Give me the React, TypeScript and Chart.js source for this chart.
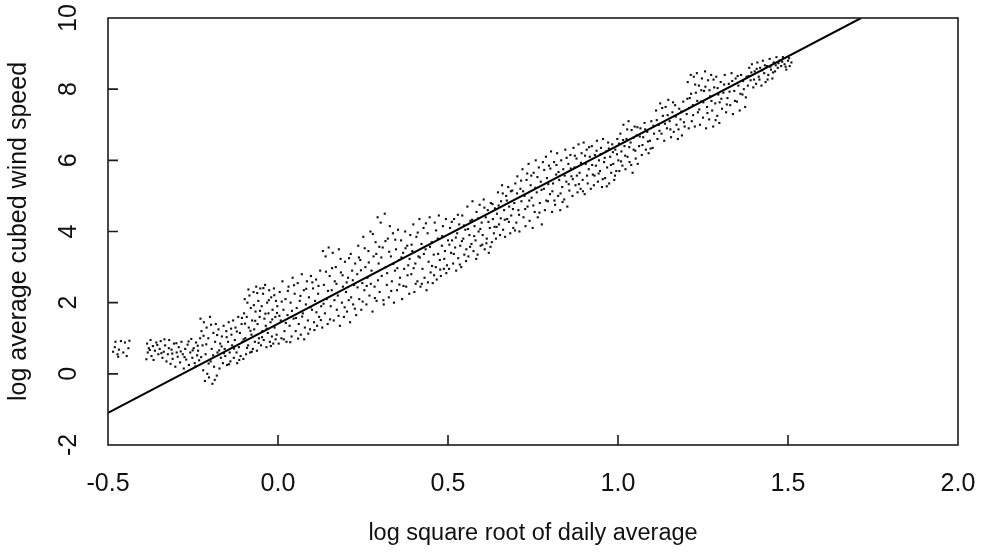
import { useEffect, useRef } from 'react';
import { Chart, registerables } from 'chart.js';

Chart.register(...registerables);

// x: log square root of daily average, y: log average cubed wind speed
const isolatedPoints: [number, number][] = [
  [-0.485, 0.62], [-0.48, 0.75], [-0.478, 0.9], [-0.472, 0.55], [-0.468, 0.68], [-0.462, 0.92],
  [-0.455, 0.6], [-0.45, 0.88], [-0.445, 0.5], [-0.44, 0.72], [-0.437, 0.93], [-0.47, 0.48],
];

const lowPoints: [number, number][] = [
  [-0.385, 0.85], [-0.383, 0.6], [-0.38, 0.72], [-0.375, 0.95], [-0.372, 0.5], [-0.368, 0.78], [-0.362, 0.65],
  [-0.358, 0.88], [-0.352, 0.55], [-0.348, 0.7], [-0.345, 0.92], [-0.34, 0.45], [-0.336, 0.62], [-0.332, 0.8],
  [-0.328, 0.35], [-0.324, 0.55], [-0.32, 0.95], [-0.316, 0.28], [-0.313, 0.68], [-0.31, 0.42], [-0.306, 0.85],
  [-0.302, 0.2], [-0.298, 0.6], [-0.295, 0.48], [-0.292, 0.75], [-0.288, 0.32], [-0.284, 0.9], [-0.28, 0.55],
  [-0.277, 0.15], [-0.273, 0.7], [-0.27, 0.4], [-0.266, 0.82], [-0.262, 0.25], [-0.258, 0.6], [-0.255, 0.98],
  [-0.252, 0.45], [-0.248, 0.72], [-0.245, 0.3], [-0.241, 0.88], [-0.238, 0.52], [-0.235, 0.65], [-0.232, 0.38],
  [-0.229, 1.0],
  [-0.228, 1.55], [-0.225, 1.2], [-0.222, 0.8], [-0.22, 0.1], [-0.218, 1.45], [-0.215, -0.2], [-0.213, 0.55],
  [-0.21, 1.3], [-0.208, 0.0], [-0.205, 1.0], [-0.203, -0.1], [-0.2, 1.6], [-0.198, 0.35], [-0.195, 0.7],
  [-0.193, -0.28], [-0.19, 1.15], [-0.188, 0.2], [-0.185, 0.9], [-0.183, 1.4], [-0.18, -0.05], [-0.178, 0.6],
  [-0.175, 1.25], [-0.172, 0.15], [-0.17, 0.85],
  [-0.168, 0.45], [-0.165, 1.05], [-0.162, 0.3], [-0.16, 1.35], [-0.157, 0.7], [-0.155, 0.5], [-0.152, 1.2],
  [-0.15, 0.25], [-0.147, 0.9], [-0.145, 1.45], [-0.142, 0.6], [-0.14, 0.35], [-0.137, 1.1], [-0.135, 0.8],
  [-0.132, 1.5], [-0.13, 0.45], [-0.127, 0.95], [-0.125, 1.3], [-0.122, 0.6], [-0.12, 0.3], [-0.117, 1.6],
  [-0.115, 0.75], [-0.112, 1.15], [-0.11, 0.5], [-0.107, 1.4], [-0.105, 0.9], [-0.102, 0.42], [-0.1, 1.7],
  [-0.387, 0.41], [-0.377, 0.67], [-0.366, 0.39], [-0.355, 0.81], [-0.343, 0.58], [-0.334, 0.97], [-0.321, 0.72],
  [-0.311, 0.57], [-0.299, 0.86], [-0.286, 0.63], [-0.275, 0.47], [-0.263, 0.91], [-0.251, 0.66], [-0.243, 0.21],
  [-0.236, 0.79], [-0.226, 0.47], [-0.219, 1.07], [-0.211, 0.83], [-0.204, 0.29], [-0.197, 1.38], [-0.191, 0.52],
  [-0.186, -0.17], [-0.179, 1.09], [-0.173, 0.66], [-0.166, 0.77], [-0.159, 0.58], [-0.151, 1.03], [-0.144, 0.27],
  [-0.138, 1.27], [-0.129, 0.71], [-0.121, 1.19], [-0.114, 0.39], [-0.106, 1.57], [-0.101, 0.97],
];

const rampPoints: [number, number][] = [
  [-0.098, 2.1], [-0.096, 1.0], [-0.094, 0.55], [-0.092, 1.6], [-0.09, 2.0], [-0.088, 0.8], [-0.086, 1.3],
  [-0.084, 2.2], [-0.082, 0.6], [-0.08, 1.85], [-0.078, 1.1], [-0.076, 1.5], [-0.074, 0.7], [-0.072, 2.3],
  [-0.07, 1.25], [-0.068, 0.9], [-0.066, 1.75], [-0.064, 2.45], [-0.062, 0.65], [-0.06, 1.4], [-0.058, 2.05],
  [-0.056, 1.0], [-0.054, 1.6], [-0.052, 2.4], [-0.05, 0.8], [-0.048, 1.9], [-0.046, 1.2], [-0.044, 2.25],
  [-0.042, 0.95], [-0.04, 1.55], [-0.038, 2.5], [-0.036, 1.35], [-0.034, 0.75], [-0.032, 2.0], [-0.03, 1.15],
  [-0.028, 1.7], [-0.026, 2.35], [-0.024, 0.9], [-0.022, 1.45], [-0.02, 2.15], [-0.018, 1.05], [-0.016, 1.8],
  [-0.014, 0.85], [-0.012, 2.4], [-0.01, 1.3], [-0.008, 1.6], [-0.006, 2.05], [-0.004, 1.1], [-0.002, 1.9],
  [0.002, 0.85], [0.005, 2.3], [0.008, 1.5], [0.01, 1.0], [0.013, 2.6], [0.016, 1.8], [0.019, 1.2],
  [0.022, 2.1], [0.025, 0.9], [0.028, 1.65], [0.031, 2.45], [0.034, 1.35], [0.037, 2.0], [0.04, 1.05],
  [0.043, 2.7], [0.046, 1.55], [0.049, 2.25], [0.052, 1.2], [0.055, 1.85], [0.058, 2.55], [0.061, 1.4],
  [0.064, 2.05], [0.067, 1.1], [0.07, 2.8], [0.073, 1.7], [0.076, 2.35], [0.079, 1.3], [0.082, 1.95],
  [0.085, 2.6], [0.088, 1.5], [0.091, 2.15], [0.094, 1.25], [0.097, 2.75], [0.1, 1.8], [0.103, 2.4],
  [0.106, 1.45], [0.109, 2.05], [0.112, 2.65], [0.115, 1.35], [0.118, 2.25], [0.121, 1.6], [0.124, 2.9],
  [0.127, 1.9], [0.13, 1.3],
  [0.132, 3.45], [0.135, 2.5], [0.138, 1.7], [0.14, 3.3], [0.143, 2.1], [0.146, 1.4], [0.149, 3.55],
  [0.152, 2.75], [0.155, 1.9], [0.158, 2.35], [0.161, 3.4], [0.164, 1.5], [0.167, 2.6], [0.17, 3.0],
  [0.173, 1.8], [0.176, 2.2], [0.179, 3.5], [0.182, 1.35], [0.185, 2.85], [0.188, 2.0], [0.191, 2.45],
  [0.194, 1.6], [0.197, 3.15], [0.2, 2.3], [0.203, 1.75], [0.206, 2.7], [0.209, 3.25], [0.212, 1.45],
  [0.215, 2.15], [0.218, 2.9], [0.221, 1.95], [0.224, 2.5], [0.227, 3.1], [0.23, 1.65],
  [-0.097, 1.41], [-0.091, 0.73], [-0.087, 2.37], [-0.081, 1.21], [-0.077, 0.62], [-0.071, 1.93], [-0.067, 1.49],
  [-0.061, 2.27], [-0.057, 0.87], [-0.053, 1.77], [-0.047, 1.03], [-0.043, 2.41], [-0.037, 1.69], [-0.033, 1.27],
  [-0.027, 2.07], [-0.021, 0.78], [-0.017, 1.53], [-0.011, 2.21], [-0.007, 0.97], [-0.003, 1.71],
  [0.004, 1.63], [0.011, 2.03], [0.017, 0.97], [0.023, 1.43], [0.029, 2.33], [0.036, 0.89], [0.041, 1.77],
  [0.047, 2.49], [0.053, 1.57], [0.059, 0.99], [0.066, 2.19], [0.071, 1.61], [0.077, 0.97], [0.083, 2.39],
  [0.089, 1.13], [0.096, 1.87], [0.101, 2.57], [0.107, 1.23], [0.113, 1.73], [0.119, 2.47], [0.126, 1.51],
  [0.134, 1.97], [0.141, 2.87], [0.147, 2.33], [0.153, 1.53], [0.159, 2.97], [0.166, 2.07], [0.172, 2.53],
  [0.178, 1.63], [0.184, 3.23], [0.19, 2.77], [0.196, 1.87], [0.202, 2.57], [0.208, 2.07], [0.214, 3.37],
  [0.22, 2.63], [0.226, 1.83],
];

const midPoints: [number, number][] = [
  [0.233, 2.8], [0.236, 3.6], [0.239, 2.1], [0.242, 3.2], [0.245, 1.8], [0.248, 2.55], [0.251, 3.85],
  [0.254, 2.35], [0.257, 3.0], [0.26, 1.95], [0.263, 2.7], [0.266, 3.45], [0.269, 2.2], [0.272, 4.0],
  [0.275, 2.9], [0.278, 1.75], [0.281, 3.3], [0.284, 2.45], [0.287, 3.7], [0.29, 2.05],
  [0.293, 4.4], [0.296, 3.1], [0.299, 2.3], [0.302, 4.25], [0.305, 2.75], [0.308, 3.55], [0.311, 1.95],
  [0.314, 4.5], [0.317, 3.0], [0.32, 2.5], [0.323, 3.8], [0.326, 2.15], [0.329, 4.15], [0.332, 3.3],
  [0.335, 2.6], [0.338, 3.95], [0.341, 2.0], [0.344, 2.9], [0.347, 3.5], [0.35, 2.35], [0.353, 4.05],
  [0.356, 3.2], [0.359, 2.7], [0.362, 3.75], [0.365, 2.1], [0.368, 3.4], [0.371, 2.95], [0.374, 4.0],
  [0.377, 2.45], [0.38, 3.6], [0.383, 3.05], [0.386, 2.25], [0.389, 3.9],
  [0.392, 2.8], [0.395, 3.45], [0.398, 4.2], [0.401, 2.3], [0.404, 3.1], [0.407, 3.85], [0.41, 2.6],
  [0.413, 3.3], [0.416, 4.35], [0.419, 2.45], [0.422, 3.65], [0.425, 2.95], [0.428, 4.1], [0.431, 2.7],
  [0.434, 3.5], [0.437, 2.35], [0.44, 3.95], [0.443, 3.15], [0.446, 4.4], [0.449, 2.85], [0.452, 3.7],
  [0.455, 2.55], [0.458, 3.35], [0.461, 4.25], [0.464, 3.0], [0.467, 2.65], [0.47, 3.8], [0.473, 4.45],
  [0.476, 3.2], [0.479, 2.75], [0.482, 3.6], [0.485, 4.15], [0.488, 2.95], [0.491, 3.45], [0.494, 4.35],
  [0.497, 3.05], [0.5, 3.75],
  [0.503, 2.95], [0.506, 4.1], [0.509, 3.4], [0.512, 3.75], [0.515, 3.1], [0.518, 4.35], [0.521, 3.55],
  [0.524, 2.9], [0.527, 3.95], [0.53, 3.25], [0.533, 4.2], [0.536, 3.6], [0.539, 3.0], [0.542, 4.45],
  [0.545, 3.8], [0.548, 3.35], [0.551, 4.05], [0.554, 3.5], [0.557, 4.7], [0.56, 3.3], [0.563, 3.9],
  [0.566, 4.3], [0.569, 3.65], [0.572, 4.85], [0.575, 3.45], [0.578, 4.15], [0.581, 3.75], [0.584, 4.55],
  [0.587, 3.35], [0.59, 4.0], [0.593, 4.75], [0.596, 3.6], [0.599, 4.25], [0.602, 3.9], [0.605, 4.9],
  [0.608, 3.5], [0.611, 4.4], [0.614, 3.8], [0.617, 4.6], [0.62, 3.4], [0.623, 4.1], [0.626, 4.8],
  [0.629, 3.7], [0.632, 4.35], [0.635, 3.95], [0.638, 4.65],
  [0.234, 2.43], [0.238, 3.27], [0.244, 2.91], [0.249, 2.03], [0.255, 3.53], [0.261, 2.47], [0.267, 3.13],
  [0.273, 2.53], [0.279, 3.93], [0.285, 2.13], [0.289, 3.37], [0.294, 2.63], [0.298, 3.57], [0.304, 3.27],
  [0.31, 2.07], [0.316, 3.73], [0.321, 2.83], [0.327, 3.43], [0.333, 2.33], [0.339, 3.09], [0.345, 3.77],
  [0.351, 2.97], [0.357, 2.51], [0.363, 3.27], [0.369, 2.47], [0.375, 3.53], [0.381, 2.77], [0.387, 3.23],
  [0.393, 3.63], [0.399, 2.97], [0.405, 2.53], [0.411, 3.97], [0.417, 3.27], [0.423, 2.53], [0.429, 3.37],
  [0.435, 4.23], [0.441, 2.57], [0.447, 3.57], [0.453, 3.03], [0.459, 2.77], [0.465, 4.03], [0.471, 3.37],
  [0.477, 2.93], [0.483, 3.87], [0.489, 3.23], [0.495, 2.83], [0.504, 3.63], [0.511, 4.27], [0.517, 3.37],
  [0.523, 3.83], [0.529, 4.47], [0.535, 3.07], [0.541, 3.73], [0.547, 4.17], [0.553, 3.17], [0.559, 4.07],
  [0.565, 3.57], [0.571, 4.33], [0.577, 3.87], [0.583, 3.23], [0.589, 4.37], [0.595, 4.07], [0.601, 3.63],
  [0.607, 4.67], [0.613, 3.67], [0.619, 4.27], [0.625, 3.57], [0.631, 4.77], [0.637, 4.13],
];

const upperPoints: [number, number][] = [
  [0.641, 3.8], [0.644, 4.5], [0.647, 5.1], [0.65, 4.2], [0.653, 3.9], [0.656, 4.85], [0.659, 5.3],
  [0.662, 4.05], [0.665, 4.6], [0.668, 3.85], [0.671, 5.0], [0.674, 4.35], [0.677, 5.25], [0.68, 4.7],
  [0.683, 3.95], [0.686, 4.45], [0.689, 5.15], [0.692, 4.1], [0.695, 4.8], [0.698, 5.35], [0.701, 4.25],
  [0.704, 5.55], [0.707, 4.6], [0.71, 4.0], [0.713, 5.2], [0.716, 4.85], [0.719, 5.75], [0.722, 4.4],
  [0.725, 5.0], [0.728, 4.15], [0.731, 5.45], [0.734, 4.7], [0.737, 5.9], [0.74, 4.3], [0.743, 5.3],
  [0.746, 4.95], [0.749, 4.1], [0.752, 5.65], [0.755, 4.55], [0.758, 6.0], [0.761, 5.1], [0.764, 4.4],
  [0.767, 5.8], [0.77, 4.8], [0.773, 5.4], [0.776, 4.2], [0.779, 5.95],
  [0.782, 5.2], [0.785, 4.6], [0.788, 6.1], [0.791, 5.5], [0.794, 4.85], [0.797, 5.85], [0.8, 5.05],
  [0.803, 6.25], [0.806, 4.55], [0.809, 5.35], [0.812, 5.95], [0.815, 4.75], [0.818, 5.6], [0.821, 6.2],
  [0.824, 5.0], [0.827, 5.45], [0.83, 4.6], [0.833, 6.0], [0.836, 5.25], [0.839, 5.75], [0.842, 4.9],
  [0.845, 6.3], [0.848, 5.4], [0.851, 4.7], [0.854, 5.9], [0.857, 5.15], [0.86, 6.15], [0.863, 5.55],
  [0.866, 5.0], [0.869, 6.35], [0.872, 5.8], [0.875, 5.3], [0.878, 6.05], [0.881, 5.1], [0.884, 6.45],
  [0.887, 5.65], [0.89, 5.2], [0.893, 6.2], [0.896, 5.45], [0.899, 6.5], [0.902, 5.05], [0.905, 5.9],
  [0.908, 6.3], [0.911, 5.35], [0.914, 5.75], [0.917, 6.1], [0.92, 5.2],
  [0.923, 6.4], [0.926, 5.6], [0.929, 5.3], [0.932, 6.15], [0.935, 5.85], [0.938, 6.55], [0.941, 5.4],
  [0.944, 6.0], [0.947, 5.7], [0.95, 6.35], [0.953, 5.25], [0.956, 6.6], [0.959, 5.95], [0.962, 5.5],
  [0.965, 6.25], [0.968, 5.8], [0.971, 6.5], [0.974, 5.35], [0.977, 6.1], [0.98, 5.65], [0.983, 6.45],
  [0.986, 5.9], [0.989, 5.45], [0.992, 6.3], [0.995, 5.7], [0.998, 6.6], [1.001, 6.0], [1.004, 5.7],
  [1.007, 6.75], [1.01, 6.25], [1.013, 5.85], [1.016, 7.0], [1.019, 6.4], [1.022, 5.75], [1.025, 6.6],
  [1.028, 6.1], [1.031, 7.1], [1.034, 5.95], [1.037, 6.5], [1.04, 6.85], [1.043, 5.65], [1.046, 6.3],
  [1.049, 6.95], [1.052, 6.05], [1.055, 6.7], [1.058, 5.9],
  [0.643, 4.13], [0.649, 4.73], [0.655, 4.37], [0.661, 5.07], [0.667, 4.33], [0.673, 4.87], [0.679, 4.27],
  [0.685, 5.13], [0.691, 4.63], [0.697, 4.03], [0.703, 5.07], [0.709, 4.47], [0.715, 5.43], [0.721, 5.13],
  [0.727, 4.63], [0.733, 5.63], [0.739, 4.87], [0.745, 5.57], [0.751, 4.73], [0.757, 5.23], [0.763, 5.53],
  [0.769, 4.53], [0.775, 5.17], [0.783, 5.73], [0.789, 4.87], [0.795, 5.33], [0.801, 5.77], [0.807, 5.13],
  [0.813, 4.87], [0.819, 5.87], [0.825, 5.67], [0.831, 5.07], [0.837, 4.83], [0.843, 5.57], [0.849, 6.07],
  [0.855, 5.33], [0.861, 5.77], [0.867, 5.47], [0.873, 6.13], [0.879, 5.57], [0.885, 5.33], [0.891, 5.93],
  [0.897, 5.13], [0.903, 6.13], [0.909, 5.57], [0.915, 6.37], [0.924, 5.87], [0.931, 5.57], [0.937, 6.27],
  [0.943, 5.63], [0.949, 6.17], [0.955, 5.47], [0.961, 6.07], [0.967, 5.27], [0.973, 6.33], [0.979, 5.87],
  [0.985, 6.23], [0.991, 5.57], [0.997, 6.17], [1.003, 6.47], [1.009, 5.97], [1.015, 6.57], [1.021, 6.13],
  [1.027, 6.87], [1.033, 6.37], [1.039, 5.87], [1.045, 6.63], [1.051, 6.27], [1.057, 6.93],
];

const highPoints: [number, number][] = [
  [1.062, 6.4], [1.066, 6.9], [1.07, 6.15], [1.074, 6.65], [1.078, 7.05], [1.082, 6.3], [1.086, 6.8],
  [1.09, 6.2], [1.094, 6.55], [1.098, 7.1], [1.102, 6.35], [1.106, 6.75], [1.112, 7.4], [1.116, 6.6],
  [1.12, 7.0], [1.124, 7.6], [1.128, 6.75], [1.132, 7.25], [1.136, 6.55], [1.14, 7.5], [1.144, 6.9],
  [1.148, 7.7], [1.152, 7.1], [1.156, 6.65], [1.16, 7.35], [1.164, 6.8], [1.168, 7.55], [1.172, 7.0],
  [1.176, 6.6], [1.18, 7.45], [1.184, 7.15], [1.188, 6.7], [1.192, 7.65], [1.196, 6.95],
  [1.202, 7.3], [1.205, 8.2], [1.208, 6.9], [1.211, 7.75], [1.214, 8.4], [1.217, 7.1], [1.22, 7.55],
  [1.223, 8.35], [1.226, 6.95], [1.229, 7.9], [1.232, 8.45], [1.235, 7.35], [1.238, 8.1], [1.241, 7.0],
  [1.244, 7.65], [1.247, 8.3], [1.25, 7.2], [1.253, 7.95], [1.256, 8.5], [1.259, 6.9], [1.262, 7.5],
  [1.265, 8.25], [1.268, 7.15], [1.271, 7.8], [1.274, 8.4], [1.277, 7.4], [1.28, 6.95], [1.283, 8.05],
  [1.286, 7.6], [1.289, 8.35], [1.292, 7.25], [1.295, 7.85], [1.298, 7.05],
  [1.302, 8.2], [1.306, 7.45], [1.31, 7.9], [1.314, 8.4], [1.318, 7.35], [1.322, 7.75], [1.326, 8.15],
  [1.33, 7.55], [1.334, 8.45], [1.338, 7.3], [1.342, 7.95], [1.346, 8.3], [1.35, 7.65], [1.354, 8.1],
  [1.358, 7.4], [1.362, 8.4], [1.366, 7.85], [1.37, 8.0], [1.374, 7.5], [1.378, 8.35], [1.382, 8.1],
  [1.386, 8.6], [1.39, 8.25], [1.394, 8.7], [1.398, 8.05], [1.402, 8.5], [1.406, 8.15], [1.41, 8.75],
  [1.414, 8.35], [1.418, 8.6], [1.422, 8.1], [1.426, 8.8], [1.43, 8.45], [1.434, 8.2], [1.438, 8.65],
  [1.442, 8.4], [1.446, 8.85], [1.45, 8.55], [1.454, 8.3], [1.458, 8.75], [1.462, 8.5], [1.466, 8.9],
  [1.47, 8.6], [1.475, 8.8], [1.48, 8.65], [1.485, 8.9], [1.49, 8.7], [1.495, 8.55], [1.5, 8.8],
  [1.505, 8.65], [1.51, 8.75],
  [1.064, 6.67], [1.072, 6.43], [1.08, 6.87], [1.088, 6.53], [1.096, 6.33], [1.104, 6.97], [1.114, 7.13],
  [1.122, 6.83], [1.13, 7.47], [1.138, 7.03], [1.146, 7.27], [1.154, 6.87], [1.162, 7.63], [1.17, 7.23],
  [1.178, 6.87], [1.186, 7.37], [1.194, 7.07], [1.204, 7.73], [1.209, 7.47], [1.215, 7.87], [1.221, 7.27],
  [1.227, 8.13], [1.233, 7.67], [1.239, 7.43], [1.245, 7.97], [1.251, 7.63], [1.257, 8.07], [1.263, 7.33],
  [1.269, 7.97], [1.275, 7.67], [1.281, 8.27], [1.287, 7.13], [1.293, 8.03], [1.299, 7.63], [1.304, 7.73],
  [1.312, 8.13], [1.32, 7.57], [1.328, 7.93], [1.336, 8.23], [1.344, 7.67], [1.352, 8.37], [1.36, 7.87],
  [1.368, 8.23], [1.376, 7.77], [1.384, 8.37], [1.392, 8.47], [1.4, 8.27], [1.408, 8.57], [1.416, 8.27],
  [1.424, 8.53], [1.432, 8.67], [1.44, 8.27], [1.448, 8.63], [1.456, 8.47], [1.464, 8.67], [1.472, 8.73],
  [1.483, 8.77], [1.493, 8.63], [1.503, 8.87],
];

// fitted regression line end points
const fitLineX = [-0.5, 1.715];
const fitLineY = [-1.1, 10.0];

const xTickValues = [-0.5, 0.0, 0.5, 1.0, 1.5, 2.0];
const yTickValues = [-2, 0, 2, 4, 6, 8, 10];

const xTitle = 'log square root of daily average';
const yTitle = 'log average cubed wind speed';

const FONT = "'Liberation Sans', Arial, Helvetica, sans-serif";
const INK = '#111111';

const framePlugin = {
  id: 'frameAndTicks',
  afterDraw(chart: any) {
    const { ctx, chartArea: a, scales } = chart;
    ctx.save();
    ctx.strokeStyle = '#1c1c1c';
    ctx.lineWidth = 1.6;
    ctx.strokeRect(a.left, a.top, a.right - a.left, a.bottom - a.top);
    ctx.beginPath();
    const xs = scales.x;
    const ys = scales.y;
    for (const t of xs.ticks) {
      if (t.value <= xs.min || t.value >= xs.max) continue;
      const p = xs.getPixelForValue(t.value);
      ctx.moveTo(p, a.bottom);
      ctx.lineTo(p, a.bottom - 10);
    }
    for (const t of ys.ticks) {
      if (t.value <= ys.min || t.value >= ys.max) continue;
      const p = ys.getPixelForValue(t.value);
      ctx.moveTo(a.left, p);
      ctx.lineTo(a.left + 10, p);
    }
    ctx.stroke();
    ctx.restore();
  },
};

export default function App() {
  const canvasRef = useRef<HTMLCanvasElement | null>(null);

  useEffect(() => {
    const canvas = canvasRef.current;
    if (!canvas) return;
    const allPoints = [
      ...isolatedPoints,
      ...lowPoints,
      ...rampPoints,
      ...midPoints,
      ...upperPoints,
      ...highPoints,
    ].map(([x, y]) => ({ x, y }));
    const lineData = fitLineX.map((x, i) => ({ x, y: fitLineY[i] }));

    const chart = new Chart(canvas, {
      type: 'scatter',
      data: {
        datasets: [
          {
            label: 'fit',
            data: lineData,
            showLine: true,
            borderColor: '#000000',
            borderWidth: 2,
            pointRadius: 0,
            fill: false,
          },
          {
            label: 'days',
            data: allPoints,
            pointStyle: 'rect',
            pointRadius: 1.5,
            pointBorderWidth: 0,
            borderWidth: 0,
            backgroundColor: INK,
            pointBackgroundColor: INK,
          },
        ],
      },
      options: {
        responsive: false,
        animation: false,
        devicePixelRatio: 1,
        layout: { padding: { left: 0, right: 26, top: 18, bottom: 0 } },
        plugins: {
          legend: { display: false },
          tooltip: { enabled: false },
        },
        scales: {
          x: {
            type: 'linear',
            min: -0.5,
            max: 2.0,
            grid: { display: false, drawTicks: false },
            border: { display: false },
            afterBuildTicks: (s: any) => {
              s.ticks = xTickValues.map((v) => ({ value: v }));
            },
            afterFit: (s: any) => {
              s.height = 110;
              s.paddingLeft = 0;
              s.paddingRight = 0;
              s.paddingTop = 0;
              s.paddingBottom = 0;
            },
            ticks: {
              padding: 24,
              color: INK,
              maxRotation: 0,
              minRotation: 0,
              autoSkip: false,
              font: { family: FONT, size: 25 },
              callback: (v: any) => Number(v).toFixed(1),
            },
            title: {
              display: true,
              text: xTitle,
              color: INK,
              font: { family: FONT, size: 23.5 },
              padding: { top: 0, bottom: 7 },
            },
          },
          y: {
            type: 'linear',
            min: -2,
            max: 10,
            grid: { display: false, drawTicks: false },
            border: { display: false },
            afterBuildTicks: (s: any) => {
              s.ticks = yTickValues.map((v) => ({ value: v }));
            },
            afterFit: (s: any) => {
              s.width = 108;
              s.paddingLeft = 0;
              s.paddingRight = 0;
              s.paddingTop = 0;
              s.paddingBottom = 0;
            },
            ticks: {
              padding: 25,
              color: INK,
              minRotation: 90,
              maxRotation: 90,
              crossAlign: 'center',
              autoSkip: false,
              font: { family: FONT, size: 25 },
              callback: (v: any) => String(v),
            },
            title: {
              display: true,
              text: yTitle,
              color: INK,
              font: { family: FONT, size: 25 },
              padding: { top: 4, bottom: 0 },
            },
          },
        },
      },
      plugins: [framePlugin],
    } as any);

    return () => chart.destroy();
  }, []);

  return (
    <div style={{ position: 'absolute', left: 0, top: 0, width: 984, height: 555, background: '#ffffff' }}>
      <canvas ref={canvasRef} width={984} height={555} style={{ display: 'block' }} />
    </div>
  );
}
